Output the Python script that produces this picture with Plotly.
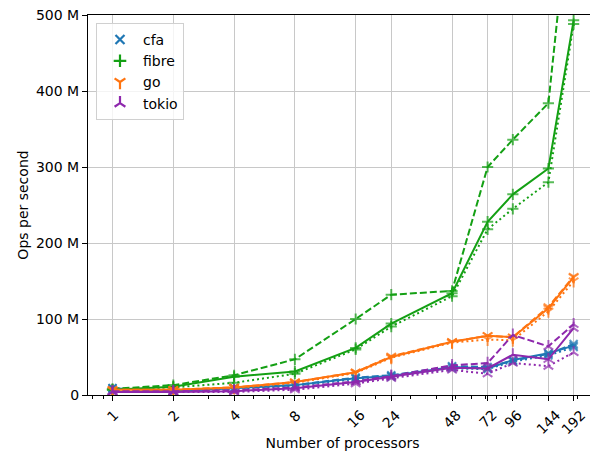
import math
import plotly.graph_objects as go

procs = [1, 2, 4, 8, 16, 24, 48, 72, 96, 144, 192]
tick_labels = ["1", "2", "4", "8", "16", "24", "48", "72", "96", "144", "192"]

libraries = ["cfa", "fibre", "go", "tokio"]

# values in millions of ops per second, three variants per library
cfa_solid = [9, 5, 9, 13, 22, 25, 37, 35, 46, 55, 65]
cfa_dashed = [9, 5, 9, 13, 23, 26, 38, 37, 45, 54, 67]
cfa_dotted = [8, 5, 8, 12, 21, 24, 35, 34, 44, 52, 63]

fibre_solid = [7, 11, 24, 31, 62, 94, 134, 228, 264, 298, 493]
fibre_dashed = [8, 13, 26, 47, 100, 132, 137, 300, 336, 384, 700]
fibre_dotted = [7, 10, 16, 28, 60, 90, 130, 218, 245, 280, 488]

go_solid = [7, 7, 10, 17, 30, 50, 70, 78, 76, 114, 155]
go_dashed = [7, 7, 10, 17, 30, 51, 70, 78, 76, 116, 156]
go_dotted = [6, 7, 9, 16, 29, 49, 69, 73, 72, 110, 150]

tokio_solid = [4, 4, 5, 9, 17, 24, 36, 35, 53, 47, 88]
tokio_dashed = [5, 5, 6, 10, 18, 25, 39, 42, 79, 64, 93]
tokio_dotted = [4, 4, 4, 7, 15, 22, 33, 28, 42, 38, 56]

y_ticks = [0, 100, 200, 300, 400, 500]
y_tick_labels = ["0", "100 M", "200 M", "300 M", "400 M", "500 M"]
minor_x = [0.8, 0.9, 3, 5, 6, 7, 9, 10, 20, 30, 40, 50, 60, 70, 80, 90, 100, 200]

series = {
    "cfa": [cfa_solid, cfa_dashed, cfa_dotted],
    "fibre": [fibre_solid, fibre_dashed, fibre_dotted],
    "go": [go_solid, go_dashed, go_dotted],
    "tokio": [tokio_solid, tokio_dashed, tokio_dotted],
}
colors = {"cfa": "#1f77b4", "fibre": "#14a014", "go": "#ff7410", "tokio": "#8e28ad"}
symbols = {"cfa": "x-thin", "fibre": "cross-thin", "go": "y-down", "tokio": "y-up"}
dashes = ["solid", "7px,3px", "2px,3px"]

FONT = "DejaVu Sans"
FS = 14

fig = go.Figure()
for lib in libraries:
    for vals, dash in zip(series[lib], dashes):
        fig.add_trace(go.Scatter(
            x=procs, y=[v * 1e6 for v in vals], mode="lines+markers",
            line=dict(color=colors[lib], width=2, dash=dash),
            marker=dict(symbol=symbols[lib], size=8, opacity=0.7,
                        line=dict(color=colors[lib], width=2)),
            showlegend=False, hoverinfo="x+y",
        ))

for lib in libraries:
    fig.add_trace(go.Scatter(
        x=[None], y=[None], mode="markers", name=lib,
        marker=dict(symbol=symbols[lib], size=9,
                    line=dict(color=colors[lib], width=2.2), color=colors[lib]),
    ))

# rotated x tick labels, centred under each tick like the reference
for p, lab in zip(procs, tick_labels):
    fig.add_annotation(
        x=math.log10(p), xref="x", y=0, yref="paper", text=lab, showarrow=False,
        textangle=-45, xanchor="center", yanchor="top", yshift=-9,
        font=dict(family=FONT, size=FS, color="black"),
    )

# the page body adds an 8px offset, so the figure is sized to fit the window
fig.update_layout(
    width=590, height=448,
    margin=dict(l=80, r=1, t=7, b=61),
    paper_bgcolor="white", plot_bgcolor="white",
    font=dict(family=FONT, size=FS, color="black"),
    legend=dict(x=0.0157, y=0.979, xanchor="left", yanchor="top",
                bgcolor="rgba(255,255,255,0.8)", bordercolor="#d0d0d0", borderwidth=1,
                font=dict(family=FONT, size=FS), tracegroupgap=0, itemwidth=36),
    showlegend=True,
)
fig.update_xaxes(
    type="log", range=[-0.1213, 2.399], automargin=False,
    tickmode="array", tickvals=procs, ticktext=tick_labels, showticklabels=False,
    showgrid=True, gridcolor="#c8c8c8", gridwidth=1,
    showline=True, linecolor="black", linewidth=1, mirror=True,
    ticks="outside", ticklen=5, tickcolor="black",
    minor=dict(tickmode="array", tickvals=minor_x, ticks="outside", ticklen=3,
               tickcolor="black", showgrid=False),
    title=dict(text="Number of processors", standoff=38, font=dict(family=FONT, size=FS)),
    zeroline=False,
)
fig.update_yaxes(
    range=[0, 500e6], automargin=False, ticklabeloverflow="allow",
    tickmode="array", tickvals=[v * 1e6 for v in y_ticks], ticktext=y_tick_labels,
    tickfont=dict(family=FONT, size=FS),
    showgrid=True, gridcolor="#c8c8c8", gridwidth=1,
    showline=True, linecolor="black", linewidth=1, mirror=True,
    ticks="outside", ticklen=5, tickcolor="black",
    title=dict(text="Ops per second", standoff=4, font=dict(family=FONT, size=FS)),
    zeroline=False,
)

fig.write_html("out.html")
